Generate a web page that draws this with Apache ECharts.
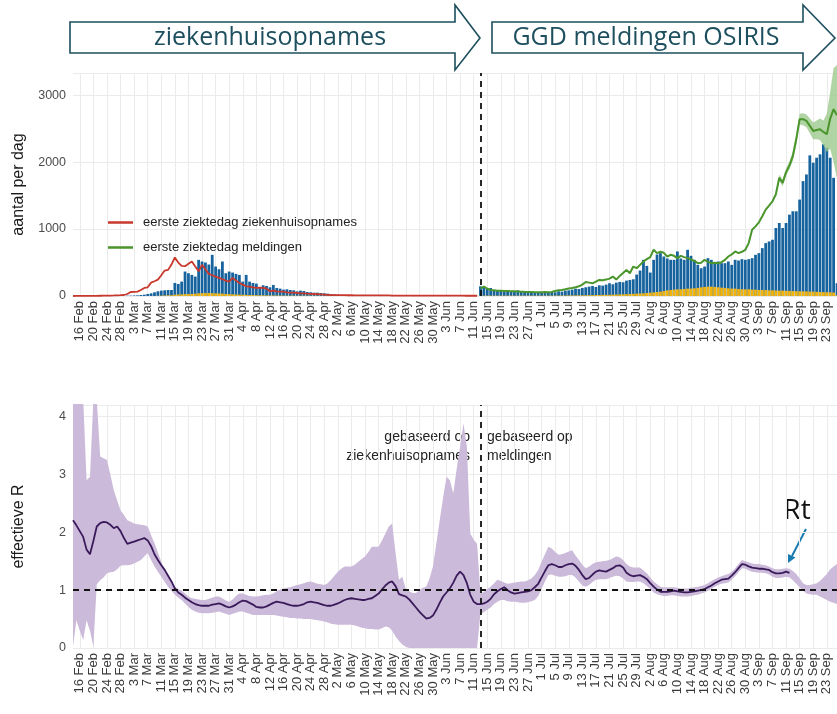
<!DOCTYPE html>
<html>
<head>
<meta charset="utf-8">
<script src="https://cdn.jsdelivr.net/npm/echarts@6/dist/echarts.min.js"></script>
<style>
  html, body { margin: 0; padding: 0; background: #fff; }
  #main { width: 837px; height: 714px; }
</style>
</head>
<body>
<div id="main"></div>
<script>
// dagen van 14 Feb t/m 26 Sep 2020 (index 2 = 16 Feb)
const monthNames = ['Jan', 'Feb', 'Mar', 'Apr', 'May', 'Jun', 'Jul', 'Aug', 'Sep', 'Oct', 'Nov', 'Dec'];
const nDays = 226;
const days = [];
for (let i = 0; i < nDays; i++) {
  const dt = new Date(2020, 1, 14 + i);
  days.push(dt.getDate() + ' ' + monthNames[dt.getMonth()]);
}

// blauwe staven (totaal per dag), vanaf 14 Feb
const casesTotal = [
  0, 0, 0, 0, 0, 0, 0, 0, 0, 0, 0, 0, 0, 0, 2, 3, 5, 6, 8, 10,
  15, 20, 30, 40, 55, 70, 80, 85, 90, 90,
  195, 180, 215, 365, 340, 315, 290, 540, 515, 500,
  470, 615, 440, 400, 515, 340, 365, 350, 330, 315,
  215, 315, 215, 195, 185, 135, 160, 150, 130, 165,
  120, 110, 95, 100, 90, 85, 70, 80, 75, 60,
  55, 50, 50, 45, 40, 35, 30, 25, 20, 15,
  15, 12, 10, 10, 14, 8, 8, 6, 6, 5,
  5, 5, 4, 4, 4, 3, 3, 3, 3, 3,
  2, 2, 2, 2, 2, 2, 2, 2, 2, 2,
  2, 2, 2, 2, 2, 2, 2, 2, 2, 2,
  145, 120, 110, 120, 85, 90, 80, 75, 80, 70,
  75, 85, 70, 60, 65, 55, 60, 50, 60, 55,
  50, 60, 55, 70, 65, 80, 85, 95, 110, 105,
  120, 130, 140, 150, 135, 160, 155, 170, 190, 175,
  200, 210, 205, 230, 240, 250, 320, 380, 540, 450,
  350, 540, 620, 640, 590, 560, 540, 540, 665, 560,
  540, 690, 600, 540, 465, 415, 440, 565, 540, 490,
  515, 490, 490, 515, 465, 540, 530, 550, 540, 550,
  565, 615, 640, 715, 790, 815, 840, 1015, 1090, 1015,
  1090, 1215, 1265, 1265, 1440, 1715, 1815, 2100, 1990, 2065,
  2115, 2265, 2215, 2065, 1765, 190
];

// gele deel van de staven, vanaf 14 Feb
const casesYellow = [
  0, 0, 0, 0, 0, 0, 0, 0, 0, 0, 0, 0, 0, 0, 0, 0, 0, 0, 0, 0, 0, 0, 0, 0, 0,
  3, 5, 8, 10, 12,
  20, 22, 25, 28, 30, 30, 35, 40, 42, 45,
  45, 42, 40, 38, 35, 30, 28, 25, 22, 20,
  18, 16, 15, 14, 12, 11, 10, 9, 8, 8,
  7, 6, 6, 5, 5, 5, 4, 4, 4, 3,
  3, 3, 3, 2, 2, 2, 2, 2, 2, 2,
  1, 1, 1, 1, 1, 1, 1, 1, 1, 1, 1, 1, 1, 1, 1, 1, 1, 1, 1, 1,
  1, 1, 1, 1, 1, 1, 1, 1, 1, 1, 1, 1, 1, 1, 1, 1, 1, 1, 1, 1,
  5, 5, 5, 5, 5, 5, 5, 5, 5, 5,
  5, 5, 5, 5, 5, 5, 5, 5, 5, 5,
  5, 5, 6, 6, 7, 7, 8, 8, 9, 10,
  10, 11, 12, 13, 14, 15, 16, 17, 18, 20,
  22, 24, 25, 27, 30, 32, 35, 38, 40, 45,
  50, 55, 60, 65, 75, 85, 90, 95, 100, 100,
  105, 110, 110, 115, 120, 130, 135, 140, 140, 135,
  130, 125, 120, 115, 110, 110, 105, 100, 100, 100,
  95, 95, 90, 90, 88, 85, 85, 82, 80, 80,
  78, 76, 75, 72, 70, 70, 68, 66, 65, 62,
  60, 58, 56, 55, 52, 10
];

// eerste ziektedag ziekenhuisopnames, 14 Feb t/m 13 Jun
const hospLine = [
  0, 1,
  1, 1, 2, 2, 3, 3, 4, 5, 6, 7,
  8, 10, 12, 15, 30, 60, 62, 65, 90, 120,
  130, 200, 220, 245, 310, 380, 390, 470, 575, 500,
  450, 445, 480, 515, 440, 370, 465, 400, 330, 310,
  290, 270, 250, 230, 215, 270, 230, 195, 170, 145,
  140, 130, 120, 125, 120, 110, 70, 80, 70, 65,
  65, 55, 50, 50, 45, 40, 40, 35, 32, 30,
  28, 25, 22, 18, 15, 14, 13, 12, 12, 11,
  11, 10, 10, 10, 9, 9, 9, 8, 8, 8,
  8, 8, 7, 7, 7, 7, 6, 6, 6, 6,
  6, 6, 5, 5, 5, 5, 5, 5, 5, 5,
  5, 5, 5, 5, 4, 4, 4, 4
];

// eerste ziektedag meldingen, 14 Jun t/m 26 Sep
const caseLineStart = 120;
const caseLine = [
  115, 140, 110, 90, 85, 80, 78, 75, 74, 72,
  70, 68, 65, 62, 60, 58, 56, 55, 56, 58,
  57, 60, 75, 85, 90, 100, 112, 118, 130, 145,
  170, 210, 200, 190, 215, 240, 235, 245, 260, 290,
  245, 300, 345, 390, 340, 440, 415, 465, 515, 550,
  580, 690, 640, 660, 645, 590, 615, 600, 565, 600,
  580, 565, 545, 525, 490, 495, 540, 510, 490, 495,
  490, 505, 540, 590, 620, 665, 640, 660, 690, 790,
  990, 1040, 1100, 1190, 1290, 1350, 1415, 1520, 1765, 1690,
  1850, 1950, 2090, 2340, 2640, 2640, 2615, 2540, 2465, 2480,
  2490, 2450, 2415, 2650, 2790, 2700
];

// onzekerheidsband meldingen, 7 Sep t/m 26 Sep
const caseBandStart = 207;
const caseLow = [1480, 1720, 1640, 1800, 1890, 2020, 2260, 2560, 2550, 2520, 2430, 2340, 2340, 2330, 2250, 2150, 2200, 2000, 1750];
const caseHigh = [1560, 1810, 1740, 1900, 2010, 2160, 2420, 2720, 2730, 2710, 2650, 2590, 2620, 2650, 2620, 2720, 3050, 3400, 3450];

// effectieve R, 14 Feb t/m 7 Sep
const rLine = [
  2.21, 2.12,
  2.02, 1.92, 1.70, 1.62, 1.85, 2.10, 2.16, 2.18, 2.17, 2.13,
  2.07, 2.10, 2.02, 1.90, 1.80, 1.82, 1.84, 1.86, 1.88, 1.90,
  1.86, 1.76, 1.62, 1.52, 1.43, 1.35, 1.25, 1.15, 1.03, 0.96,
  0.92, 0.87, 0.83, 0.79, 0.76, 0.74, 0.73, 0.73, 0.73, 0.75,
  0.76, 0.77, 0.75, 0.72, 0.70, 0.72, 0.75, 0.79, 0.82, 0.81,
  0.78, 0.75, 0.71, 0.70, 0.70, 0.72, 0.75, 0.78, 0.80, 0.79,
  0.78, 0.76, 0.74, 0.73, 0.73, 0.74, 0.76, 0.79, 0.80, 0.79,
  0.78, 0.76, 0.74, 0.73, 0.73, 0.75, 0.77, 0.80, 0.83, 0.85,
  0.86, 0.85, 0.84, 0.83, 0.83, 0.85, 0.86, 0.90, 0.94, 1.01,
  1.08, 1.13, 1.15, 1.07, 0.93, 0.91, 0.89, 0.84, 0.77, 0.70,
  0.63, 0.57, 0.51, 0.52, 0.56, 0.66, 0.78, 0.89, 0.96, 1.03,
  1.13, 1.25, 1.32, 1.26, 1.12, 0.92, 0.80, 0.76, 0.76, 0.77,
  0.80, 0.85, 0.93, 0.98, 1.02, 1.05, 1.00, 0.96, 0.94, 0.95,
  0.96, 0.97, 0.98, 1.00, 1.05, 1.11, 1.22, 1.33, 1.43, 1.45,
  1.43, 1.40, 1.40, 1.43, 1.45, 1.46, 1.42, 1.35, 1.26, 1.19,
  1.21, 1.27, 1.32, 1.34, 1.33, 1.32, 1.35, 1.38, 1.42, 1.43,
  1.39, 1.30, 1.26, 1.24, 1.25, 1.26, 1.23, 1.19, 1.12, 1.06,
  1.01, 0.97, 0.97, 0.97, 0.98, 0.99, 0.98, 0.97, 0.96, 0.96,
  0.97, 0.98, 0.99, 1.00, 1.02, 1.05, 1.08, 1.12, 1.15, 1.18,
  1.19, 1.20, 1.25, 1.31, 1.38, 1.45, 1.44, 1.41, 1.39, 1.38,
  1.37, 1.37, 1.36, 1.35, 1.31, 1.29, 1.29, 1.30, 1.32, 1.30
];

// onzekerheidsband R, 14 Feb t/m 26 Sep
const rLow = [
  0.02, 0.48,
  0.30, 0.14, 0.48, 0.30, 0.02, 1.10, 1.17, 1.22, 1.29, 1.31,
  1.32, 1.36, 1.42, 1.43, 1.43, 1.44, 1.46, 1.49, 1.52, 1.58,
  1.64, 1.52, 1.41, 1.32, 1.23, 1.14, 1.06, 0.99, 0.92, 0.87,
  0.83, 0.77, 0.71, 0.66, 0.63, 0.61, 0.60, 0.60, 0.60, 0.61,
  0.62, 0.63, 0.61, 0.59, 0.57, 0.59, 0.61, 0.63, 0.63, 0.61,
  0.59, 0.57, 0.57, 0.57, 0.57, 0.57, 0.57, 0.57, 0.56, 0.55,
  0.54, 0.53, 0.52, 0.52, 0.51, 0.51, 0.50, 0.50, 0.50, 0.49,
  0.48, 0.47, 0.46, 0.44, 0.42, 0.41, 0.40, 0.40, 0.40, 0.40,
  0.40, 0.39, 0.37, 0.35, 0.34, 0.33, 0.33, 0.32, 0.32, 0.34,
  0.37, 0.36, 0.30, 0.20, 0.12, 0.06, 0.02, 0, 0, 0,
  0, 0, 0, 0, 0, 0, 0, 0, 0, 0,
  0, 0, 0, 0, 0, 0, 0, 0, 0.60, 0.62,
  0.66, 0.70, 0.76, 0.80, 0.83, 0.83, 0.81, 0.80, 0.80, 0.79,
  0.78, 0.78, 0.79, 0.81, 0.83, 0.90, 1.02, 1.15, 1.26, 1.27,
  1.25, 1.23, 1.23, 1.24, 1.26, 1.26, 1.22, 1.15, 1.08, 1.06,
  1.09, 1.14, 1.18, 1.19, 1.19, 1.19, 1.21, 1.23, 1.25, 1.24,
  1.20, 1.15, 1.14, 1.14, 1.15, 1.15, 1.12, 1.07, 1.02, 0.96,
  0.93, 0.91, 0.90, 0.90, 0.91, 0.91, 0.90, 0.89, 0.89, 0.89,
  0.90, 0.91, 0.92, 0.94, 0.96, 0.99, 1.02, 1.06, 1.09, 1.11,
  1.12, 1.13, 1.18, 1.24, 1.31, 1.38, 1.37, 1.34, 1.32, 1.31,
  1.30, 1.30, 1.29, 1.27, 1.23, 1.21, 1.21, 1.22, 1.23, 1.22,
  1.17, 1.11, 1.05, 0.99, 0.94, 0.93, 0.92, 0.92, 0.89, 0.86,
  0.83, 0.80, 0.78, 0.76
];
const rHigh = [
  4.3, 4.3,
  4.3, 4.3, 2.9, 2.96, 4.3, 4.3, 3.31, 3.28, 3.25, 3.00,
  2.73, 2.55, 2.38, 2.30, 2.21, 2.18, 2.15, 2.14, 2.13, 2.12,
  2.10, 1.95, 1.81, 1.65, 1.49, 1.36, 1.23, 1.14, 1.06, 1.02,
  0.99, 0.94, 0.89, 0.86, 0.85, 0.84, 0.83, 0.83, 0.85, 0.87,
  0.89, 0.89, 0.86, 0.82, 0.80, 0.84, 0.90, 0.94, 0.94, 0.92,
  0.90, 0.89, 0.89, 0.90, 0.91, 0.92, 0.92, 0.94, 0.98, 1.01,
  1.03, 1.04, 1.05, 1.07, 1.09, 1.10, 1.12, 1.14, 1.15, 1.13,
  1.11, 1.10, 1.09, 1.12, 1.18, 1.25, 1.32, 1.37, 1.41, 1.41,
  1.41, 1.44, 1.49, 1.54, 1.58, 1.66, 1.75, 1.75, 1.75, 1.86,
  1.98, 2.10, 2.15, 1.64, 1.18, 1.23, 1.02, 0.98, 0.95, 0.95,
  1.00, 1.04, 1.06, 1.20, 1.41, 1.80, 2.21, 2.60, 2.96, 2.90,
  2.67, 3.10, 3.48, 3.88, 3.48, 1.98, 1.87, 1.80, 0.94, 0.97,
  1.02, 1.06, 1.12, 1.18, 1.16, 1.13, 1.11, 1.12, 1.13, 1.14,
  1.15, 1.15, 1.17, 1.20, 1.26, 1.35, 1.49, 1.62, 1.75, 1.72,
  1.66, 1.61, 1.62, 1.64, 1.67, 1.69, 1.60, 1.52, 1.44, 1.38,
  1.41, 1.45, 1.48, 1.49, 1.50, 1.51, 1.52, 1.55, 1.58, 1.57,
  1.52, 1.45, 1.41, 1.39, 1.39, 1.39, 1.34, 1.29, 1.22, 1.15,
  1.10, 1.06, 1.05, 1.05, 1.05, 1.05, 1.04, 1.03, 1.03, 1.03,
  1.04, 1.05, 1.06, 1.07, 1.09, 1.12, 1.16, 1.19, 1.22, 1.24,
  1.26, 1.28, 1.32, 1.38, 1.45, 1.52, 1.50, 1.48, 1.46, 1.45,
  1.45, 1.44, 1.43, 1.41, 1.38, 1.36, 1.36, 1.37, 1.38, 1.37,
  1.33, 1.28, 1.20, 1.12, 1.09, 1.09, 1.10, 1.12, 1.16, 1.22,
  1.28, 1.36, 1.41, 1.45
];

const switchDay = days[120]; // overgang ziekenhuisopnames -> meldingen

function placeAt(offset, values) {
  const out = new Array(nDays).fill(null);
  values.forEach((v, i) => { out[offset + i] = v; });
  return out;
}

const labelEvery4 = (idx) => (idx - 2) % 4 === 0;
const font = 'Liberation Sans, Arial, sans-serif';
const gridColor = '#ebebeb';

function xAxisFor(gridIndex) {
  return {
    type: 'category',
    gridIndex: gridIndex,
    data: days,
    boundaryGap: false,
    axisLine: { show: false },
    axisTick: { show: false },
    axisLabel: {
      interval: labelEvery4, rotate: 90, fontSize: 13, color: '#3a3a3a',
      fontFamily: font, margin: 5
    },
    splitLine: { show: true, interval: labelEvery4, lineStyle: { color: gridColor, width: 1 } }
  };
}

const chart = echarts.init(document.getElementById('main'));

const arrowStyle = { fill: '#fff', stroke: '#1d4f5e', lineWidth: 1.6 };

const option = {
  backgroundColor: '#fff',
  animation: false,
  grid: [
    { left: 73, top: 73, width: 764, height: 223 },
    { left: 73, top: 405, width: 764, height: 243 }
  ],
  legend: {
    data: ['eerste ziektedag ziekenhuisopnames', 'eerste ziektedag meldingen'],
    orient: 'vertical',
    left: 103, top: 211,
    icon: 'rect',
    itemWidth: 25, itemHeight: 2.5, itemGap: 12,
    textStyle: { fontSize: 13, color: '#222', fontFamily: font, padding: [0, 0, 0, 5] }
  },
  xAxis: [xAxisFor(0), xAxisFor(1)],
  yAxis: [
    {
      type: 'value', gridIndex: 0, min: 0, max: 3330, interval: 1000,
      name: 'aantal per dag', nameLocation: 'middle', nameRotate: 90, nameGap: 46,
      nameTextStyle: { fontSize: 16, color: '#1a1a1a', fontFamily: font },
      axisLabel: {
        fontSize: 12.5, color: '#4d4d4d', fontFamily: font, margin: 7,
        formatter: (v) => (v % 1000 === 0 ? String(v) : '')
      },
      splitLine: { lineStyle: { color: gridColor, width: 1 } }
    },
    {
      type: 'value', gridIndex: 1, min: 0, max: 4.2, interval: 1,
      name: 'effectieve R', nameLocation: 'middle', nameRotate: 90, nameGap: 46,
      nameTextStyle: { fontSize: 16, color: '#1a1a1a', fontFamily: font },
      axisLabel: {
        fontSize: 12.5, color: '#4d4d4d', fontFamily: font, margin: 7,
        formatter: (v) => (Number.isInteger(v) ? String(v) : '')
      },
      splitLine: { lineStyle: { color: gridColor, width: 1 } }
    }
  ],
  series: [
    {
      name: 'totaal', type: 'bar', xAxisIndex: 0, yAxisIndex: 0,
      data: casesTotal, barCategoryGap: '18%', barGap: '-100%',
      itemStyle: { color: '#16639e' },
      markLine: {
        silent: true, symbol: 'none', label: { show: false },
        lineStyle: { color: '#111', type: [6, 5], width: 1.8 },
        data: [{ xAxis: switchDay }]
      }
    },
    {
      name: 'geel', type: 'bar', xAxisIndex: 0, yAxisIndex: 0,
      data: casesYellow, barCategoryGap: '18%', barGap: '-100%',
      itemStyle: { color: '#f2b40c' }
    },
    {
      name: 'bandBasis', type: 'line', xAxisIndex: 0, yAxisIndex: 0,
      data: placeAt(caseBandStart, caseLow), stack: 'groen', symbol: 'none',
      lineStyle: { opacity: 0 }, clip: false
    },
    {
      name: 'band', type: 'line', xAxisIndex: 0, yAxisIndex: 0,
      data: placeAt(caseBandStart, caseHigh.map((h, i) => h - caseLow[i])),
      stack: 'groen', symbol: 'none', clip: false,
      lineStyle: { opacity: 0 }, areaStyle: { color: '#9cc98c', opacity: 0.8 }
    },
    {
      name: 'eerste ziektedag ziekenhuisopnames', type: 'line', xAxisIndex: 0, yAxisIndex: 0,
      data: placeAt(0, hospLine), symbol: 'none',
      lineStyle: { color: '#c9382c', width: 1.8 }, itemStyle: { color: '#c9382c' }
    },
    {
      name: 'eerste ziektedag meldingen', type: 'line', xAxisIndex: 0, yAxisIndex: 0,
      data: placeAt(caseLineStart, caseLine), symbol: 'none', clip: false,
      lineStyle: { color: '#4a952c', width: 2 }, itemStyle: { color: '#4a952c' }
    },
    {
      name: 'rBasis', type: 'line', xAxisIndex: 1, yAxisIndex: 1,
      data: rLow, stack: 'r', symbol: 'none', lineStyle: { opacity: 0 }
    },
    {
      name: 'rBand', type: 'line', xAxisIndex: 1, yAxisIndex: 1,
      data: rHigh.map((h, i) => h - rLow[i]), stack: 'r', symbol: 'none',
      lineStyle: { opacity: 0 }, areaStyle: { color: '#cbbad9', opacity: 1 }
    },
    {
      name: 'R', type: 'line', xAxisIndex: 1, yAxisIndex: 1,
      data: placeAt(0, rLine), symbol: 'none',
      lineStyle: { color: '#3a1a5a', width: 1.8 },
      markLine: {
        silent: true, symbol: 'none', label: { show: false },
        lineStyle: { color: '#111', type: [6, 5], width: 1.8 },
        data: [{ xAxis: switchDay }, { yAxis: 1 }]
      }
    }
  ],
  graphic: [
    { type: 'polygon', shape: { points: [[70, 22], [455, 22], [455, 5], [480, 38], [455, 70], [455, 53], [70, 53]] }, style: arrowStyle },
    { type: 'polygon', shape: { points: [[492, 22], [803, 22], [803, 5], [835, 38], [803, 70], [803, 53], [492, 53]] }, style: arrowStyle },
    { type: 'text', x: 270, y: 38, style: { text: 'ziekenhuisopnames', fontSize: 25, fontFamily: 'Open Sans, sans-serif', fill: '#1d4f5e', align: 'center', verticalAlign: 'middle' } },
    { type: 'text', x: 646, y: 38, style: { text: 'GGD meldingen OSIRIS', fontSize: 25, fontFamily: 'Open Sans, sans-serif', fill: '#1d4f5e', align: 'center', verticalAlign: 'middle' } },
    { type: 'text', x: 470, y: 437, style: { text: 'gebaseerd op', fontSize: 14, fontFamily: font, fill: '#222', align: 'right', verticalAlign: 'middle' } },
    { type: 'text', x: 470, y: 456, style: { text: 'ziekenhuisopnames', fontSize: 14, fontFamily: font, fill: '#222', align: 'right', verticalAlign: 'middle' } },
    { type: 'text', x: 487, y: 437, style: { text: 'gebaseerd op', fontSize: 14, fontFamily: font, fill: '#222', align: 'left', verticalAlign: 'middle' } },
    { type: 'text', x: 487, y: 456, style: { text: 'meldingen', fontSize: 14, fontFamily: font, fill: '#222', align: 'left', verticalAlign: 'middle' } },
    { type: 'text', x: 797, y: 511, style: { text: 'Rt', fontSize: 28, fontFamily: 'Open Sans, sans-serif', fill: '#111', align: 'center', verticalAlign: 'middle' } },
    { type: 'line', shape: { x1: 806, y1: 529, x2: 792, y2: 556 }, style: { stroke: '#1a7bb0', lineWidth: 2 } },
    { type: 'polygon', shape: { points: [[788, 563], [795.5, 557.5], [788, 554]] }, style: { fill: '#1a7bb0' } }
  ]
};

chart.setOption(option);
</script>
</body>
</html>
